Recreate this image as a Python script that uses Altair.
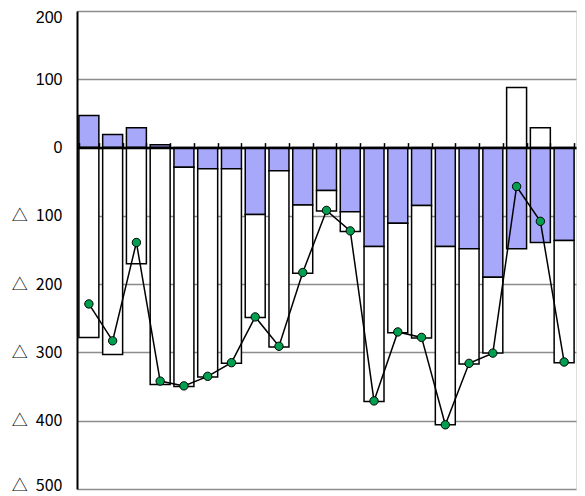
import altair as alt
import pandas as pd

categories = [str(i) for i in range(1, 22)]
blue_vals = [47, 19, 29, 4, -29, -31, -31, -98, -34, -84, -63, -94, -145, -111, -85, -145, -148, -190, -148, -139, -136]
white_vals = [-278, -303, -170, -347, -321, -305, -285, -151, -258, -100, -30, -29, -227, -160, -194, -261, -169, -111, 88, 29, -179]
net_vals = [-229, -283, -139, -342, -349, -335, -315, -248, -291, -183, -92, -122, -371, -270, -278, -406, -316, -301, -57, -108, -314]

rows = []
for c, b, w in zip(categories, blue_vals, white_vals):
    rows.append({"cat": c, "series": "blue", "value": b, "ord": 0})
    rows.append({"cat": c, "series": "white", "value": w, "ord": 1})
bars_df = pd.DataFrame(rows)
line_df = pd.DataFrame({"cat": categories, "net": net_vals})

xscale = alt.Scale(domain=categories, paddingInner=0.16, paddingOuter=0.08)
yscale = alt.Scale(domain=[-500, 200], nice=False, zero=False)

xaxis = alt.Axis(orient="top", offset=-136.6, labels=False, title=None, grid=False,
                 domainColor="black", domainWidth=2.5, tickColor="black", tickSize=5,
                 tickWidth=1.5, tickBand="extent", zindex=1)
yaxis = alt.Axis(values=[-500, -400, -300, -200, -100, 0, 100, 200], title=None,
                 labelExpr="datum.value < 0 ? '△\u2002' + abs(datum.value) : '' + datum.value",
                 grid=True, gridColor="#8c8c8c", gridWidth=1.5, ticks=False,
                 domainColor="black", domainWidth=2, labelPadding=15,
                 labelFontSize=16, labelColor="black",
                 labelOffset={"condition": [
                     {"test": "datum.value == 200", "value": 6},
                     {"test": "datum.value == -500", "value": -4}],
                     "value": 0},
                 labelFont={"condition": {"test": "datum.value < 0", "value": "Noto Sans CJK JP"},
                            "value": "Liberation Sans"})

bars = alt.Chart(bars_df).mark_bar(stroke="black", strokeWidth=1.5).encode(
    x=alt.X("cat:N", scale=xscale, axis=xaxis, sort=categories),
    y=alt.Y("value:Q", scale=yscale, axis=yaxis, stack="zero"),
    color=alt.Color("series:N", scale=alt.Scale(domain=["blue", "white"], range=["#a8a8fa", "#ffffff"]), legend=None),
    order=alt.Order("ord:Q"),
)

line = alt.Chart(line_df).mark_line(color="black", strokeWidth=1.5).encode(
    x=alt.X("cat:N", sort=categories),
    y=alt.Y("net:Q"),
)
points = alt.Chart(line_df).mark_point(filled=True, fill="#00a050", stroke="black",
                                       strokeWidth=1, size=70, opacity=1).encode(
    x=alt.X("cat:N", sort=categories),
    y=alt.Y("net:Q"),
)

chart = alt.layer(bars, line, points).properties(
    width=499, height=478,
    autosize=alt.AutoSizeParams(type="none"),
    padding={"left": 69, "top": 3, "right": 1, "bottom": 8},
).configure_view(stroke="black", strokeWidth=2).configure(background="white")

chart.save("out.html", embed_options={"renderer": "svg", "actions": False})
